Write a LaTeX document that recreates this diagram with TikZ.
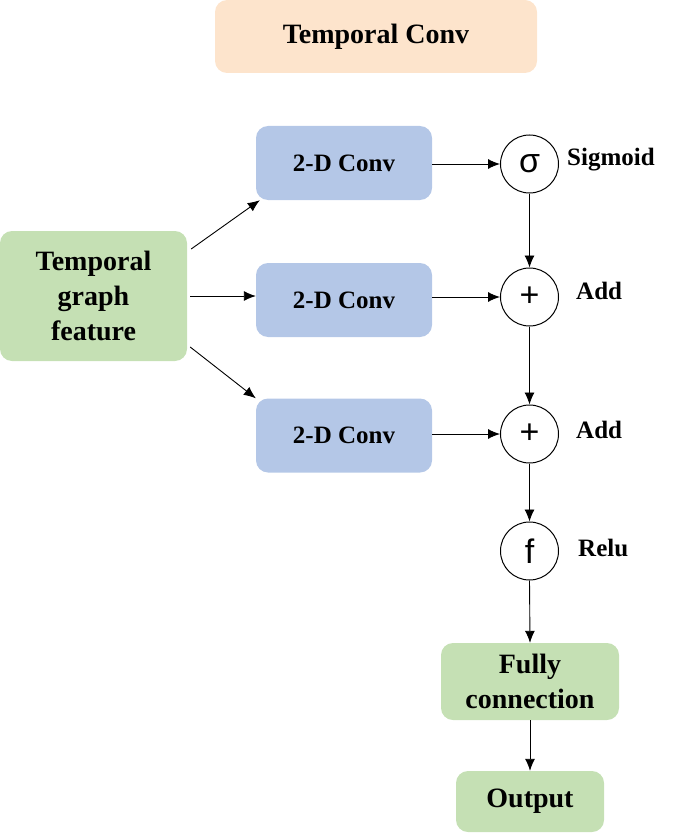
\documentclass[tikz,border=0pt]{standalone}
\usepackage{fontspec}
\setmainfont{Liberation Serif}
\newfontfamily\opfont{Liberation Sans}
\usetikzlibrary{arrows.meta,positioning,shapes}

\definecolor{peach}{HTML}{FDE4CC}
\definecolor{convblue}{HTML}{B4C7E7}
\definecolor{featgreen}{HTML}{C5E0B4}

\tikzset{
  blk/.style={rounded corners=12pt, inner sep=0pt, align=center,
    font=\fontsize{28}{35}\selectfont\bfseries},
  convblk/.style={blk, fill=convblue, minimum width=176pt, minimum height=74pt,
    font=\fontsize{25}{30}\selectfont\bfseries},
  op/.style={circle, draw, line width=1pt, minimum size=58pt, inner sep=0pt,
    font=\opfont\fontsize{34}{34}\selectfont},
  oplab/.style={font=\fontsize{25}{28}\selectfont\bfseries, inner sep=0pt},
  arr/.style={-{Latex[length=12pt,width=10pt]}, line width=0.9pt}
}

\begin{document}
\begin{tikzpicture}[x=1pt,y=-1pt]
\useasboundingbox (0,0) rectangle (672,837);
\node[blk, fill=peach, minimum width=322pt, minimum height=73pt] (title) at (376,36.5) {Temporal Conv};
\node[blk, fill=featgreen, minimum width=187pt, minimum height=130pt] (feat) at (93.5,296) {Temporal\\graph\\feature};
\node[convblk] (conv1) at (344,163) {2-D Conv};
\node[convblk] (conv2) at (344,300) {2-D Conv};
\node[convblk] (conv3) at (344,435.5) {2-D Conv};
\node[op] (sig) at (529.5,164) {σ};
\node[op] (add1) at (529.5,297) {+};
\node[op] (add2) at (529.5,434) {+};
\node[op] (relu) at (529.5,551) {f};
\node[oplab, anchor=west] (siglab) at (567,160) {Sigmoid};
\node[oplab, anchor=west] (add1lab) at (576,291) {Add};
\node[oplab, anchor=west] (add2lab) at (576,430) {Add};
\node[oplab, anchor=west] (relulab) at (578,548) {Relu};
\node[blk, fill=featgreen, minimum width=178pt, minimum height=77pt] (fc) at (530,681.5) {Fully\\connection};
\node[blk, fill=featgreen, minimum width=148pt, minimum height=61pt] (out) at (530,801.5) {Output};
% feature to the three convs
\draw[arr] ([xshift=4pt,yshift=47pt]feat.east) -- ([xshift=4pt]conv1.south west);
\draw[arr] ([xshift=3pt]feat.east) -- (feat.east -| conv2.west);
\draw[arr] ([xshift=3pt,yshift=-51pt]feat.east) -- (conv3.north west);
\draw[arr] (conv1.east |- sig.west) -- (sig.west);
\draw[arr] (conv2.east |- add1.west) -- (add1.west);
\draw[arr] (conv3.east |- add2.west) -- (add2.west);
\draw[arr] (sig.south) -- (add1.north);
\draw[arr] (add1.south) -- (add2.north);
\draw[arr] (add2.south) -- (relu.north);
\draw[arr] (relu.south) -- (fc.north);
\draw[arr] (fc.south) -- (out.north);
\end{tikzpicture}
\end{document}
